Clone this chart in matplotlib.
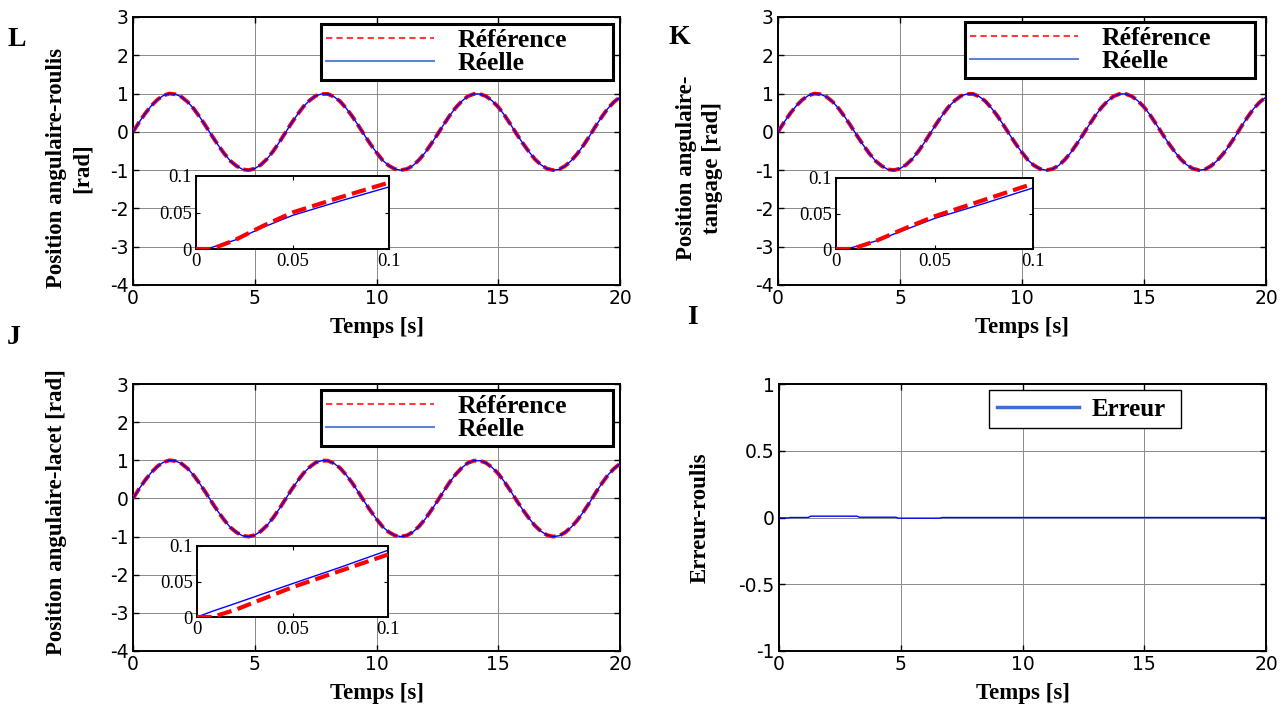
import matplotlib
matplotlib.use("Agg")
import matplotlib.pyplot as plt
from matplotlib.lines import Line2D

plt.rcParams['axes.unicode_minus'] = False

# ---------------- data ----------------
temps = [i * 0.25 for i in range(81)]  # 0 .. 20 s
reference = [0, 0.25, 0.48, 0.68, 0.84, 0.95, 1.00, 0.98, 0.91, 0.78,
             0.60, 0.38, 0.14, -0.11, -0.35, -0.57, -0.76, -0.89, -0.98, -1.00,
             -0.96, -0.86, -0.71, -0.51, -0.28, -0.03, 0.22, 0.45, 0.66, 0.82,
             0.94, 0.99, 0.99, 0.92, 0.80, 0.62, 0.41, 0.17, -0.08, -0.32,
             -0.54, -0.74, -0.88, -0.97, -1.00, -0.97, -0.88, -0.73, -0.54, -0.31,
             -0.07, 0.18, 0.42, 0.63, 0.80, 0.93, 0.99, 0.99, 0.93, 0.81,
             0.65, 0.44, 0.20, -0.05, -0.29, -0.51, -0.71, -0.86, -0.96, -1.00,
             -0.98, -0.89, -0.75, -0.57, -0.35, -0.11, 0.15, 0.39, 0.61, 0.78,
             0.91]
reelle_roulis = list(reference)
reelle_tangage = list(reference)
reelle_lacet = list(reference)

t_zoom = [0, 0.008, 0.02, 0.035, 0.05, 0.075, 0.1]
zoom_ref_roulis = [0, 0, 0.012, 0.032, 0.050, 0.071, 0.091]
zoom_reel_roulis = [0, 0.002, 0.012, 0.030, 0.046, 0.066, 0.085]
zoom_ref_tangage = [0, 0, 0.011, 0.029, 0.046, 0.069, 0.092]
zoom_reel_tangage = [0, 0.002, 0.011, 0.027, 0.043, 0.064, 0.086]
zoom_ref_lacet = [0, 0, 0.010, 0.026, 0.042, 0.065, 0.088]
zoom_reel_lacet = [0, 0.008, 0.019, 0.033, 0.047, 0.070, 0.094]

t_err = [0, 0.4, 0.45, 1.2, 1.3, 3.2, 3.3, 4.8, 4.9, 6.6, 6.7, 20]
erreur = [-0.003, -0.003, 0, 0, 0.010, 0.010, 0.002, 0.002, -0.005, -0.005, 0, 0]

xticks = [0, 5, 10, 15, 20]
yticks_pos = [-4, -3, -2, -1, 0, 1, 2, 3]
yticks_err = [-1, -0.5, 0, 0.5, 1]
zticks = [0, 0.05, 0.1]
ztick_labels = ["0", "0.05", "0.1"]

# ---------------- style ----------------
SERIF = ['Liberation Serif', 'DejaVu Serif']
SANS = ['DejaVu Sans']
RED = '#ff0000'
BLUE = '#0000ff'
LEG_RED = '#ff3b3b'
LEG_BLUE = '#5b86d6'

fig = plt.figure(figsize=(12.88, 7.18), dpi=100)

W, H = 1288, 718


def ax_at(x0, y0, x1, y1):
    return fig.add_axes([x0 / W, 1 - y1 / H, (x1 - x0) / W, (y1 - y0) / H])


def style(ax, yt, ylim):
    ax.set_xlim(0, 20)
    ax.set_ylim(*ylim)
    ax.set_xticks(xticks)
    ax.set_yticks(yt)
    ax.set_xticklabels([str(v) for v in xticks])
    ax.set_yticklabels([('%g' % v) for v in yt])
    ax.grid(True, color='#8a8a8a', lw=0.7)
    ax.tick_params(direction='in', top=True, right=True, length=4, width=1,
                   labelsize=13.5, pad=3)
    for lab in ax.get_xticklabels() + ax.get_yticklabels():
        lab.set_family(SANS)
    for s in ax.spines.values():
        s.set_linewidth(1.4)
    ax.set_xlabel('Temps [s]', family=SERIF, fontweight='bold', fontsize=16.5, labelpad=6)


def inset(ax, bounds, tz, zr, zb):
    ia = ax.inset_axes(bounds)
    ia.plot(tz, zr, color=RED, lw=3.0, ls=(0, (3.5, 1.5)), zorder=3)
    ia.plot(tz, zb, color=BLUE, lw=1.0, zorder=2)
    ia.set_xlim(0, 0.1)
    ia.set_ylim(0, 0.1)
    ia.set_xticks(zticks)
    ia.set_yticks(zticks)
    ia.set_xticklabels(ztick_labels)
    ia.set_yticklabels(ztick_labels)
    ia.tick_params(direction='in', top=True, right=True, length=3, labelsize=13.5, pad=3)
    for lab in ia.get_xticklabels() + ia.get_yticklabels():
        lab.set_family(SERIF)
    for s in ia.spines.values():
        s.set_linewidth(1.4)
    ia.set_facecolor('white')
    return ia


def pos_panel(box, series_ref, series_reel, ylabel, inset_bounds, tz, zr, zb, leg_bbox, lab_xy):
    ax = ax_at(*box)
    ax.plot(temps, series_ref, color=RED, lw=2.8, ls=(0, (3, 1.2)), zorder=3)
    ax.plot(temps, series_reel, color=BLUE, lw=1.0, zorder=4)
    style(ax, yticks_pos, (-4, 3))
    ax.set_ylabel(ylabel, family=SERIF, fontweight='bold', fontsize=16.5,
                  linespacing=1.3)
    bx0, by0, bx1, by1 = box
    ax.yaxis.set_label_coords((lab_xy[0] - bx0) / (bx1 - bx0),
                              (by1 - lab_xy[1]) / (by1 - by0))
    handles = [Line2D([], [], color=LEG_RED, lw=1.5, ls=(0, (3, 2))),
               Line2D([], [], color=LEG_BLUE, lw=1.5)]
    leg = ax.legend(handles, ['Référence', 'Réelle'], loc='upper left',
                    bbox_to_anchor=leg_bbox, mode='expand', frameon=True,
                    fancybox=False, framealpha=1, edgecolor='black',
                    handlelength=4.2, handletextpad=0.9, borderpad=0.2,
                    labelspacing=0.0, borderaxespad=0,
                    prop={'family': SERIF, 'weight': 'bold', 'size': 18.5})
    leg.get_frame().set_linewidth(2.2)
    inset(ax, inset_bounds, tz, zr, zb)
    return ax


# Axes rectangles (pixels)
L_box = (133, 17, 620, 285)
K_box = (778, 17, 1266, 285)
J_box = (133, 384, 620, 651)
I_box = (779, 384, 1266, 651)

def leg_anchor(box, x0, y0, x1, y1):
    bx0, by0, bx1, by1 = box
    return ((x0 - bx0) / (bx1 - bx0), (by1 - y0) / (by1 - by0),
            (x1 - x0) / (bx1 - bx0), 0.0)

def inset_bounds(box, x0, y0, x1, y1):
    bx0, by0, bx1, by1 = box
    return [(x0 - bx0) / (bx1 - bx0), (by1 - y1) / (by1 - by0),
            (x1 - x0) / (bx1 - bx0), (y1 - y0) / (by1 - by0)]

pos_panel(L_box, reference, reelle_roulis, 'Position angulaire-roulis\n[rad]',
          inset_bounds(L_box, 196, 176, 389, 249), t_zoom, zoom_ref_roulis, zoom_reel_roulis,
          leg_anchor(L_box, 321, 24, 613, 91), (93, 168))
pos_panel(K_box, reference, reelle_tangage, 'Position angulaire-\ntangage [rad]',
          inset_bounds(K_box, 836, 178, 1033, 249), t_zoom, zoom_ref_tangage, zoom_reel_tangage,
          leg_anchor(K_box, 965, 22, 1255, 90), (723, 168))
pos_panel(J_box, reference, reelle_lacet, 'Position angulaire-lacet [rad]',
          inset_bounds(J_box, 197, 546, 388, 617), t_zoom, zoom_ref_lacet, zoom_reel_lacet,
          leg_anchor(J_box, 321, 390, 613, 457), (67, 512))

# Error panel
axI = ax_at(*I_box)
axI.plot(t_err, erreur, color=BLUE, lw=1.0)
style(axI, yticks_err, (-1, 1))
axI.set_ylabel('Erreur-roulis', family=SERIF, fontweight='bold', fontsize=16.5, labelpad=20)
legI = axI.legend([Line2D([], [], color='#3b6fd4', lw=2.5)], ['Erreur'], loc='upper left',
                  bbox_to_anchor=leg_anchor(I_box, 989, 390, 1181, 434), mode='expand',
                  frameon=True, fancybox=False, framealpha=1, edgecolor='black',
                  handlelength=3.3, handletextpad=0.5, borderpad=0.3, borderaxespad=0,
                  prop={'family': SERIF, 'weight': 'bold', 'size': 18})
legI.get_frame().set_linewidth(1.0)

# Panel letters
for txt, x, y in [('L', 17, 40), ('K', 679, 37), ('J', 14, 338), ('I', 692, 318)]:
    fig.text(x / W, 1 - y / H, txt, family=SERIF, fontweight='bold', fontsize=20,
             ha='center', va='center')

fig.savefig('out.png', dpi=100)
